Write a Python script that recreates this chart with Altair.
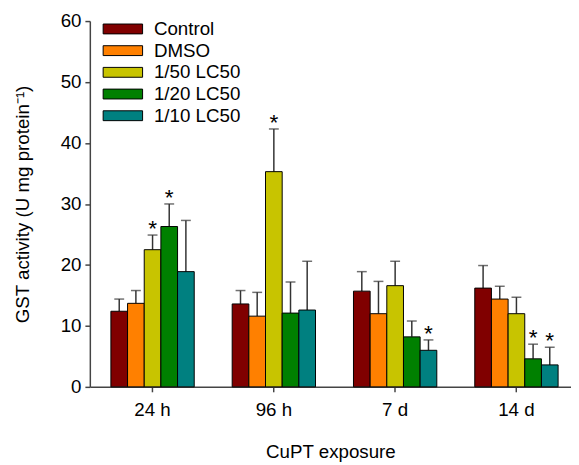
import altair as alt
import pandas as pd

times = ["24 h", "96 h", "7 d", "14 d"]
treatments = ["Control", "DMSO", "1/50 LC50", "1/20 LC50", "1/10 LC50"]
colors = ["#800000", "#ff8000", "#c8c400", "#008000", "#008080"]

control = [12.4, 13.6, 15.7, 16.2]
control_err = [2.0, 2.2, 3.2, 3.7]
dmso = [13.7, 11.6, 12.0, 14.4]
dmso_err = [2.1, 3.9, 5.3, 2.1]
lc50_50 = [22.5, 35.3, 16.6, 12.0]
lc50_50_err = [2.4, 7.0, 4.0, 2.7]
lc50_20 = [26.3, 12.1, 8.2, 4.6]
lc50_20_err = [3.7, 5.1, 2.6, 2.4]
lc50_10 = [18.9, 12.6, 6.0, 3.6]
lc50_10_err = [8.4, 8.0, 1.7, 2.9]

sig_control = [False, False, False, False]
sig_dmso = [False, False, False, False]
sig_50 = [True, True, False, False]
sig_20 = [True, False, False, True]
sig_10 = [False, False, True, True]

means = [control, dmso, lc50_50, lc50_20, lc50_10]
errs = [control_err, dmso_err, lc50_50_err, lc50_20_err, lc50_10_err]
sigs = [sig_control, sig_dmso, sig_50, sig_20, sig_10]

rows = []
for t_i, tr in enumerate(treatments):
    for g_i, tm in enumerate(times):
        m = means[t_i][g_i]
        e = errs[t_i][g_i]
        rows.append({
            "time": tm,
            "treatment": tr,
            "mean": m,
            "top": m + e,
            "sig": sigs[t_i][g_i],
        })
df = pd.DataFrame(rows)

FONT = "Liberation Sans"
FS = 19

x_enc = alt.X(
    "time:N",
    sort=times,
    scale=alt.Scale(paddingInner=0.313, paddingOuter=0.14, align=0.62),
    axis=alt.Axis(title="CuPT exposure", labelAngle=0, tickSize=5,
                  labelPadding=9, titlePadding=24),
)
xoff_enc = alt.XOffset("treatment:N", sort=treatments,
                       scale=alt.Scale(paddingInner=0, paddingOuter=0))
y_scale = alt.Scale(domain=[0, 60], nice=False)
y_axis = alt.Axis(title="GST activity (U mg protein\u207b\u00b9)",
                  values=[0, 10, 20, 30, 40, 50, 60], tickSize=5,
                  labelPadding=4, titlePadding=28, grid=False)

base = alt.Chart(df).encode(x=x_enc, xOffset=xoff_enc)

err_line = base.mark_rule(color="#333333", strokeWidth=1.5).encode(
    y=alt.Y("mean:Q", scale=y_scale, axis=y_axis),
    y2="top:Q",
)
err_cap = base.mark_tick(color="#333333", thickness=1.5, size=10,
                         orient="horizontal").encode(
    y=alt.Y("top:Q", scale=y_scale),
)
bars = base.mark_bar(stroke="black", strokeWidth=1).encode(
    y=alt.Y("mean:Q", scale=y_scale, axis=y_axis),
    color=alt.Color(
        "treatment:N", sort=treatments,
        scale=alt.Scale(domain=treatments, range=colors),
        legend=alt.Legend(
            title=None, orient="none", legendX=24, legendY=-1.5,
            symbolType="M-4,-1H4V1H-4Z", symbolSize=100,
            symbolStrokeColor="black", symbolStrokeWidth=1,
            symbolOpacity=1,
            labelFontSize=FS, labelFont=FONT, labelColor="black",
            labelOffset=22, rowPadding=2,
        ),
    ),
)
stars = base.transform_filter("datum.sig").mark_text(
    text="*", fontSize=23, font=FONT, color="black", baseline="middle", dy=-6
).encode(y=alt.Y("top:Q", scale=y_scale))

chart = alt.layer(err_line, err_cap, bars, stars).properties(
    width=571, height=457,
    autosize=alt.AutoSizeParams(type="fit", contains="padding"),
    padding={"left": 5, "top": 1, "right": 0, "bottom": 0},
).configure_view(stroke=None).configure_axis(
    labelFont=FONT, titleFont=FONT, labelFontSize=FS, titleFontSize=FS,
    labelColor="black", titleColor="black", titleFontWeight="normal",
    domainColor="#444444", tickColor="#444444", domainWidth=1.5, tickWidth=1.5,
)

chart.save("out.html", embed_options={"renderer": "svg", "actions": False})
